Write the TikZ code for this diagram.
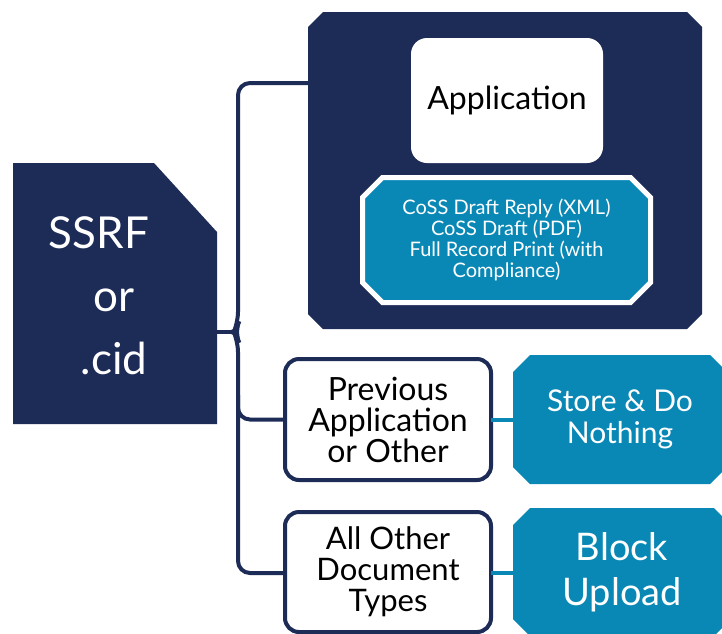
\documentclass[tikz,border=0pt]{standalone}
\usepackage{fontspec}
\setmainfont{Lato}
\usetikzlibrary{backgrounds}

\definecolor{navy}{HTML}{1D2B57}
\definecolor{teal}{HTML}{0A88B5}

% octagon behind a node: node, corner cut, path options
\newcommand{\chamfer}[3]{%
  \path[#3] ([xshift=#2]#1.north west) -- ([xshift=-#2]#1.north east) -- ([yshift=-#2]#1.north east)
    -- ([yshift=#2]#1.south east) -- ([xshift=-#2]#1.south east) -- ([xshift=#2]#1.south west)
    -- ([yshift=#2]#1.south west) -- ([yshift=-#2]#1.north west) -- cycle;}

\tikzset{
  link/.style={draw=navy, line width=4pt, rounded corners=12pt},
  tealink/.style={draw=teal, line width=4pt},
  plainbox/.style={inner sep=0pt, outer sep=0pt, align=center},
  choicebox/.style={plainbox, draw=navy, fill=white, line width=4pt, rounded corners=14pt, text=black},
  actionbox/.style={plainbox, text=white}
}

\begin{document}
\begin{tikzpicture}[x=1pt, y=-1pt]
  \useasboundingbox (0,0) rectangle (722,633);

  % source document
  \node[plainbox, minimum width=204pt, minimum height=261pt] (ssrf) at (115,293.5) {};
  \fill[navy] (ssrf.north west) -- ++(141,0) -- (ssrf.east |- 0,232) -- (ssrf.south east) -- (ssrf.south west) -- cycle;
  \node[text=white, align=center, font=\fontsize{44}{63}\selectfont] (ssrftext) at (114,296)
    {\hspace*{-30pt}SSRF\\or\\.cid};

  % application branch
  \node[plainbox, minimum width=394pt, minimum height=317pt] (appbox) at (505,170.5) {};
  \node[fill=white, rounded corners=16pt, minimum width=192pt, minimum height=125pt,
    font=\fontsize{32}{36}\selectfont] (app) at (507,100.5) {\raisebox{-4pt}{Application}};
  \node[actionbox, minimum width=288pt, minimum height=125pt, font=\fontsize{20}{21}\selectfont] (drafts) at (506.5,240)
    {CoSS Draft Reply (XML)\\CoSS Draft (PDF)\\Full Record Print (with\\Compliance)};

  % other branches
  \node[choicebox, minimum width=206pt, minimum height=121pt, font=\fontsize{32}{31}\selectfont] (prev) at (388,419.5)
    {Previous\\Application\\or Other};
  \node[choicebox, minimum width=206pt, minimum height=120pt, font=\fontsize{31}{31}\selectfont] (other) at (388,572)
    {All Other\\Document\\Types};
  \node[actionbox, minimum width=214pt, minimum height=129pt, font=\fontsize{30}{32}\selectfont] (store) at (620,419.5)
    {Store \& Do\\Nothing};
  \node[actionbox, minimum width=218pt, minimum height=128pt, font=\fontsize{38}{45}\selectfont] (block) at (622,572)
    {Block\\Upload};

  \begin{scope}[on background layer]
    \chamfer{appbox}{15pt}{fill=navy}
    \chamfer{drafts}{20pt}{fill=teal, draw=white, line width=5pt}
    \chamfer{store}{17pt}{fill=teal}
    \chamfer{block}{17pt}{fill=teal}
  \end{scope}

  % connectors
  \coordinate (bt) at (238,83);
  \coordinate (bb) at (238,573);
  \draw[link] (appbox.west |- bt) -- (bt) -- (238,324) -- (234,332) -- (238,340) -- (bb) -- (other.west |- bb);
  \draw[link] (ssrf.east |- 0,332) -- (234,332);
  \draw[link] (238,395) |- (prev.west);
  \draw[tealink] (prev.east) -- (store.west);
  \draw[tealink] (other.east |- bb) -- (block.west |- bb);
\end{tikzpicture}
\end{document}
